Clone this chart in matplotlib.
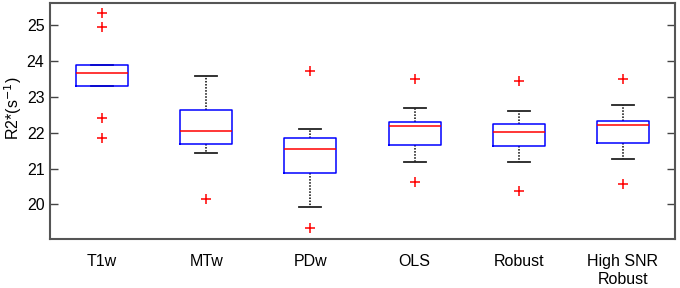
import matplotlib
matplotlib.use("Agg")
import matplotlib.pyplot as plt

plt.rcParams['font.family'] = ['Liberation Sans', 'DejaVu Sans']

# data
labels = ["T1w", "MTw", "PDw", "OLS", "Robust", "High SNR\nRobust"]
q1 = [23.32, 21.69, 20.89, 21.66, 21.63, 21.73]
med = [23.68, 22.05, 21.55, 22.18, 22.01, 22.23]
q3 = [23.90, 22.64, 21.85, 22.29, 22.25, 22.33]
whislo = [23.32, 21.43, 19.93, 21.18, 21.18, 21.26]
whishi = [23.90, 23.58, 22.11, 22.69, 22.60, 22.79]
fliers = [
    [25.34, 24.95, 22.42, 21.85],
    [20.15],
    [23.74, 19.33],
    [23.49, 20.62],
    [23.44, 20.37],
    [23.49, 20.58],
]

stats = []
for i, lab in enumerate(labels):
    stats.append(dict(label=lab, q1=q1[i], med=med[i], q3=q3[i],
                      whislo=whislo[i], whishi=whishi[i], fliers=fliers[i]))

fig = plt.figure(figsize=(6.8, 2.88), dpi=100)
ax = fig.add_axes([50 / 680, 1 - 238.5 / 288, 625 / 680, 236 / 288])

ax.bxp(stats, widths=0.5, capwidths=0.21,
       boxprops=dict(color='#0000ff', linewidth=1.1, zorder=3),
       medianprops=dict(color='#ff0000', linewidth=1.1, zorder=3.5),
       whiskerprops=dict(color='black', linestyle=(0, (1, 1)), linewidth=1.1, zorder=1.5),
       capprops=dict(color='#222222', linewidth=1.3, zorder=1.5),
       flierprops=dict(marker='+', markeredgecolor='#ff0000', markersize=7,
                       markeredgewidth=1.1, linestyle='none'))

ax.set_xlim(0.5, 6.5)
ax.set_ylim(19.05, 25.64)
ax.set_yticks([20, 21, 22, 23, 24, 25])
ax.set_ylabel('R2*(s$^{-1}$)', fontsize=11.5)
ax.yaxis.set_label_coords(-0.041, 0.55)

ax.tick_params(axis='y', direction='in', length=6, width=1, color='#444444',
               right=True, labelsize=11.5, pad=4)
ax.tick_params(axis='x', length=0, labelsize=11.5, pad=11)
for lab in ax.get_xticklabels():
    lab.set_linespacing(1.25)

for s in ax.spines.values():
    s.set_color('#555555')
    s.set_linewidth(1.5)

fig.savefig('out.png', dpi=100)
